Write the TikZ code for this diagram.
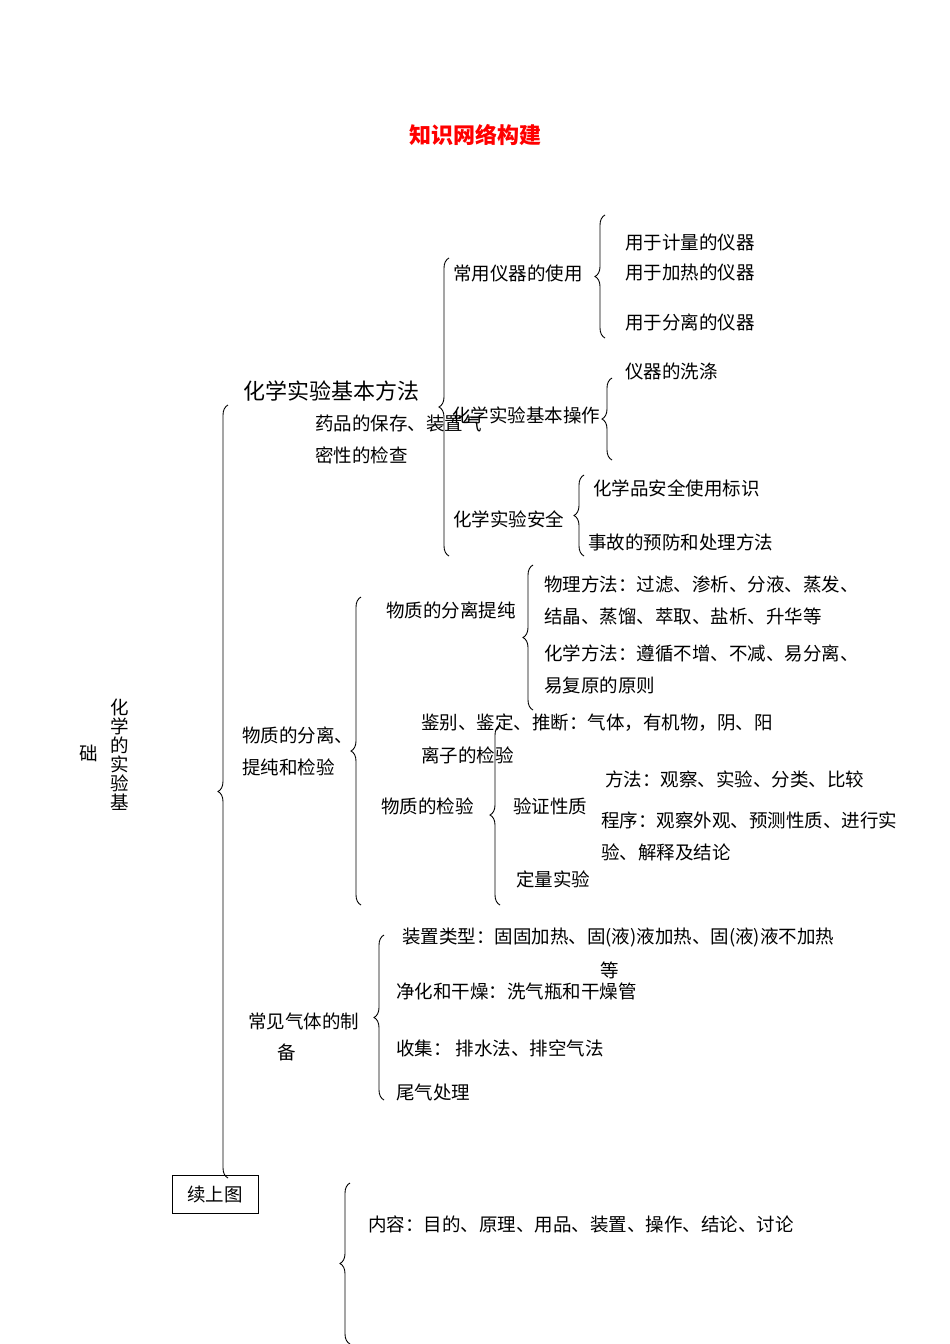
\documentclass[tikz,border=0pt]{standalone}
\usepackage{fontspec}
\setmainfont{Noto Sans CJK SC}
\usetikzlibrary{decorations.pathreplacing}
\begin{document}
\begin{tikzpicture}[x=1pt,y=-1pt,
  t/.style={anchor=west,inner sep=0pt,font=\fontsize{18.5}{20}\selectfont},
  big/.style={anchor=west,inner sep=0pt,font=\fontsize{22}{24}\selectfont},
  br/.style={decorate,decoration={brace,amplitude=10pt},line width=0.9pt}]
\useasboundingbox (0,0) rectangle (950,1344);
\node[font=\fontsize{22}{24}\selectfont\bfseries,text=red] (title) at (475,135) {知识网络构建};
% braces
\draw[br] (228,1178) -- (228,405);
\draw[br] (449,556) -- (449,258);
\draw[br] (605,338) -- (605,215);
\draw[br] (612,460) -- (612,378);
\draw[br] (584,556) -- (584,475);
\draw[br] (361,905) -- (361,597);
\draw[br] (533,710) -- (533,565);
\draw[br] (500,905) -- (500,725);
\draw[br] (384,1100) -- (384,935);
\draw[br] (350,1344) -- (350,1183);
% box
\node[draw,line width=0.9pt,minimum width=86pt,minimum height=38pt,inner sep=0pt,font=\fontsize{18.5}{20}\selectfont] (cont) at (215,1194) {续上图};
% vertical label
\node[inner sep=0pt,align=center,font=\fontsize{18.5}{19}\selectfont] (vl) at (120,755) {化\\学\\的\\实\\验\\基};
\node[t] (vl2) at (79,753) {础};
% texts
\node[big] (a1) at (243,391) {化学实验基本方法};
\node[t] (a2) at (315,423) {药品的保存、装置气};
\node[t] (a3) at (315,455) {密性的检查};
\node[t] (b1) at (453,273) {常用仪器的使用};
\node[t] (b2) at (625,242) {用于计量的仪器};
\node[t] (b3) at (625,272) {用于加热的仪器};
\node[t] (b4) at (625,322) {用于分离的仪器};
\node[t] (c1) at (625,371) {仪器的洗涤};
\node[t] (c2) at (452,415) {化学实验基本操作};
\node[t] (d1) at (593,488) {化学品安全使用标识};
\node[t] (d2) at (453,519) {化学实验安全};
\node[t] (d3) at (588,542) {事故的预防和处理方法};
\node[t] (e1) at (386,610) {物质的分离提纯};
\node[t] (e2) at (544,584) {物理方法：过滤、渗析、分液、蒸发、};
\node[t] (e3) at (544,616) {结晶、蒸馏、萃取、盐析、升华等};
\node[t] (e4) at (544,653) {化学方法：遵循不增、不减、易分离、};
\node[t] (e5) at (544,685) {易复原的原则};
\node[t] (f1) at (242,735) {物质的分离、};
\node[t] (f2) at (242,767) {提纯和检验};
\node[t] (g1) at (421,723) {鉴别、鉴定、推断：气体，有机物，阴、阳};
\node[t] (g2) at (421,755) {离子的检验};
\node[t] (g3) at (605,779) {方法：观察、实验、分类、比较};
\node[t] (g4) at (381,806) {物质的检验};
\node[t] (g5) at (513,806) {验证性质};
\node[t] (g6) at (601,820) {程序：观察外观、预测性质、进行实};
\node[t] (g7) at (601,852) {验、解释及结论};
\node[t] (g8) at (516,879) {定量实验};
\node[t] (h1) at (402,938) {装置类型：固固加热、固(液)液加热、固(液)液不加热};
\node[t] (h2) at (600,970) {等};
\node[t] (h3) at (396,991) {净化和干燥：洗气瓶和干燥管};
\node[t] (h4) at (248,1021) {常见气体的制};
\node[t] (h5) at (277,1052) {备};
\node[t] (h6) at (396,1048) {收集： 排水法、排空气法};
\node[t] (h7) at (396,1092) {尾气处理};
\node[t] (i1) at (368,1224) {内容：目的、原理、用品、装置、操作、结论、讨论};
\end{tikzpicture}
\end{document}
